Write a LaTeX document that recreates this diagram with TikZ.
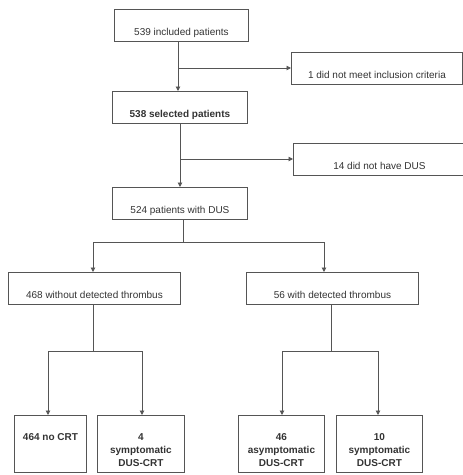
\documentclass[tikz,border=0pt]{standalone}
\usepackage{fontspec}
\setmainfont{Liberation Sans}
\usetikzlibrary{arrows.meta}
\definecolor{linec}{HTML}{555555}
\definecolor{textc}{HTML}{333333}
\tikzset{
  box/.style={draw=linec, line width=0.9pt, rectangle, inner sep=0pt, text=textc,
    font=\fontsize{10}{13}\selectfont, text height=26.5pt, text depth=5.5pt, anchor=north west},
  bbox/.style={box, font=\fontsize{10}{13}\selectfont\bfseries},
  tallbox/.style={draw=linec, line width=0.9pt, rectangle, inner sep=0pt, minimum height=57pt, anchor=north west},
  btext/.style={text=textc, font=\fontsize{10}{13}\selectfont\bfseries, align=center, anchor=north, inner sep=0pt},
  conn/.style={draw=linec, line width=0.9pt},
  arr/.style={conn, -{Triangle[length=4.5pt,width=4.5pt]}}
}
\begin{document}
\begin{tikzpicture}[x=1pt,y=-1pt]
\useasboundingbox (0,0) rectangle (463,475);
% main column
\node[box, minimum width=134pt] (b1) at (114,9) {539 included patients};
\node[bbox, minimum width=135pt] (b2) at (112,91) {538 selected patients};
\node[box, minimum width=135pt] (b3) at (112,187) {524 patients with DUS};
% exclusions
\node[box, minimum width=171pt] (e1) at (291,52) {1 did not meet inclusion criteria};
\node[box, minimum width=172pt] (e2) at (293,143) {14 did not have DUS};
% second level
\node[box, minimum width=172pt] (l1) at (8,272) {468 without detected thrombus};
\node[box, minimum width=172pt] (r1) at (246,272) {56 with detected thrombus};
% bottom boxes
\node[tallbox, minimum width=72pt] (q1) at (14,415) {};
\node[tallbox, minimum width=87pt] (q2) at (97,415) {};
\node[tallbox, minimum width=86pt] (q3) at (238,415) {};
\node[tallbox, minimum width=86pt] (q4) at (336,415) {};
\node[btext] (t1) at ([yshift=-18.5pt]q1.north) {464 no CRT};
\node[btext] (t2) at ([yshift=-18.5pt]q2.north) {4\\symptomatic\\DUS-CRT};
\node[btext] (t3) at ([yshift=-18.5pt]q3.north) {46\\asymptomatic\\DUS-CRT};
\node[btext] (t4) at ([yshift=-18.5pt]q4.north) {10\\symptomatic\\DUS-CRT};
% coordinates
\coordinate (j1) at (178,68);
\coordinate (j2) at (180,159);
\coordinate (j3) at (183,242);
\coordinate (j3l) at (93,242);
\coordinate (j3r) at (324,242);
\coordinate (j4) at (93,351);
\coordinate (j4l) at (48,351);
\coordinate (j4r) at (142,351);
\coordinate (j5) at (331,351);
\coordinate (j5l) at (282,351);
\coordinate (j5r) at (378,351);
% connectors
\draw[arr] (b1.south -| j1) -- (b2.north -| j1);
\draw[arr] (j1) -- (e1.west |- j1);
\draw[arr] (b2.south -| j2) -- (b3.north -| j2);
\draw[arr] (j2) -- (e2.west |- j2);
\draw[conn] (b3.south -| j3) -- (j3);
\draw[arr] (j3) -- (j3l) -- (l1.north -| j3l);
\draw[arr] (j3) -- (j3r) -- (r1.north -| j3r);
\draw[conn] (l1.south -| j4) -- (j4);
\draw[arr] (j4) -- (j4l) -- (q1.north -| j4l);
\draw[arr] (j4) -- (j4r) -- (q2.north -| j4r);
\draw[conn] (r1.south -| j5) -- (j5);
\draw[arr] (j5) -- (j5l) -- (q3.north -| j5l);
\draw[arr] (j5) -- (j5r) -- (q4.north -| j5r);
\end{tikzpicture}
\end{document}
